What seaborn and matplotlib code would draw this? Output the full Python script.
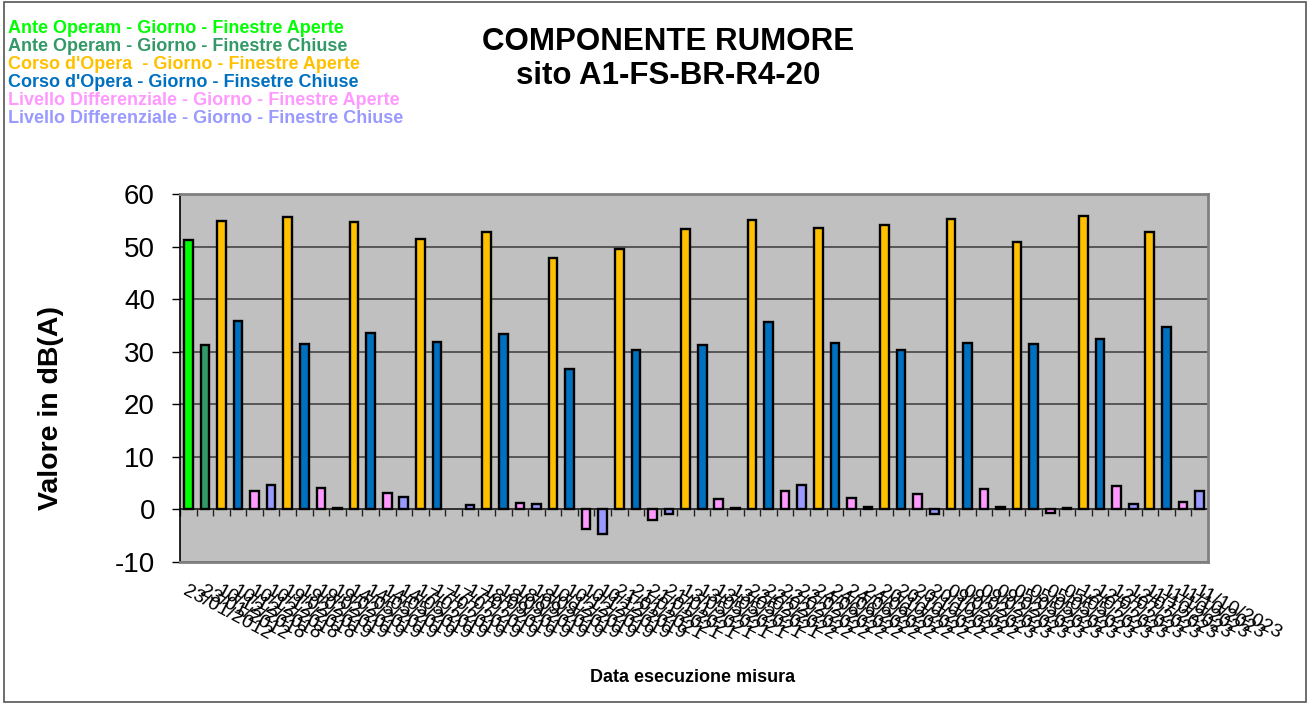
import numpy as np
import pandas as pd
import matplotlib
matplotlib.use("Agg")
import matplotlib.pyplot as plt
import seaborn as sns
from matplotlib.patches import Patch, Rectangle

# ---------------------------------
# data (dB(A))
serie = ["Ante Operam - Giorno - Finestre Aperte",
         "Ante Operam - Giorno - Finestre Chiuse",
         "Corso d'Opera  - Giorno - Finestre Aperte",
         "Corso d'Opera - Giorno - Finsetre Chiuse",
         "Livello Differenziale - Giorno - Finestre Aperte",
         "Livello Differenziale - Giorno - Finestre Chiuse"]
colori = ["#00FF00", "#339966", "#FFC000", "#0070C0", "#FF99FF", "#9999FF"]

data_ante = "23/01/2012"
date_corso = ["10/12/2018", "19/02/2019", "14/05/2019", "17/07/2019", "18/09/2019",
              "10/12/2019", "21/01/2021", "13/05/2021", "22/02/2022", "24/06/2022",
              "20/10/2022", "09/02/2023", "05/05/2023", "12/07/2023", "11/10/2023"]

ante_aperte = [51.3]
ante_chiuse = [31.2]
corso_aperte = [54.9, 55.6, 54.6, 51.4, 52.7, 47.8, 49.5, 53.4, 55.0, 53.5, 54.2, 55.3, 50.9, 55.8, 52.8]
corso_chiuse = [35.8, 31.4, 33.6, 31.8, 33.4, 26.8, 30.4, 31.3, 35.7, 31.6, 30.4, 31.7, 31.5, 32.5, 34.7]
diff_aperte = [3.5, 4.05, 3.1, np.nan, 1.3, -3.7, -2.0, 1.9, 3.5, 2.1, 2.85, 3.9, -0.6, 4.5, 1.4]
diff_chiuse = [4.7, 0.25, 2.4, 0.75, 1.1, -4.6, -0.8, 0.25, 4.6, 0.5, -0.8, 0.55, 0.3, 1.1, 3.5]

# one category (date) for every bar, as in the original sheet
rows = [(data_ante, serie[0], ante_aperte[0]), (data_ante, serie[1], ante_chiuse[0])]
for i, d in enumerate(date_corso):
    rows.append((d, serie[2], corso_aperte[i]))
    rows.append((d, serie[3], corso_chiuse[i]))
    rows.append((d, serie[4], diff_aperte[i]))
    rows.append((d, serie[5], diff_chiuse[i]))
df = pd.DataFrame(rows, columns=["data", "serie", "valore"])
df["slot"] = np.arange(len(df))

plt.rcParams["font.family"] = ["Liberation Sans", "DejaVu Sans"]
plt.rcParams["axes.unicode_minus"] = False

fig = plt.figure(figsize=(13.1, 7.04), dpi=100)
ax = fig.add_axes([0.1374, 0.2017, 0.7846, 0.5227])
ax.set_facecolor("#C0C0C0")

sns.barplot(data=df, x="slot", y="valore", hue="serie", hue_order=serie,
            palette=colori, saturation=1, dodge=False, width=0.52, edgecolor="black",
            linewidth=1.7, legend=False, ax=ax)

ax.set_ylim(-10, 60)
ax.set_yticks(range(-10, 61, 10))
ax.set_xlim(-0.5, len(df) - 0.5)
ax.yaxis.grid(True, color="#3a3a3a", linewidth=1.1)
ax.set_axisbelow(True)
ax.tick_params(axis="y", labelsize=20, direction="out", length=6, width=1, color="black", pad=12)

# dates at the bottom, slanted
ax.set_xticks(df["slot"])
ax.set_xticklabels(df["data"], rotation=-28, ha="left", rotation_mode="anchor", fontsize=14)
ax.tick_params(axis="x", length=0, pad=15)

for s in ["top", "right", "bottom"]:
    ax.spines[s].set_color("#808080")
    ax.spines[s].set_linewidth(2)
ax.spines["left"].set_color("black")
ax.spines["left"].set_linewidth(1.2)

# category axis crossing at zero, ticks between the bars
sec = ax.secondary_xaxis(0, transform=ax.transData)
sec.set_xticks(np.arange(-0.5, len(df), 1))
sec.set_xticklabels([])
sec.tick_params(direction="out", length=5, width=1, color="#222222")
sec.spines["bottom"].set_color("black")
sec.spines["bottom"].set_linewidth(1.2)

ax.set_xlabel("Data esecuzione misura", fontsize=13, fontweight="bold")
ax.xaxis.set_label_coords(0.499, -0.291)
ax.set_ylabel("Valore in dB(A)", fontsize=20.5, fontweight="bold")
ax.yaxis.set_label_coords(-0.113, 0.419)

fig.text(0.51, 0.962, "COMPONENTE RUMORE\nsito A1-FS-BR-R4-20", ha="center", va="top",
         fontsize=22.5, fontweight="bold", linespacing=1.18)

handles = [Patch(facecolor="none", edgecolor="none") for _ in serie]
fig.legend(handles, serie, loc="upper left", bbox_to_anchor=(-0.0005, 0.984),
           frameon=False, handlelength=0, handletextpad=0, labelcolor=colori,
           prop={"weight": "bold", "size": 13}, labelspacing=0.05, borderpad=0)

# thin frame round the whole chart
fig.patches.append(Rectangle((0.003, 0.003), 0.994, 0.994, transform=fig.transFigure,
                             fill=False, edgecolor="#555555", linewidth=1.2))

fig.savefig("out.png", dpi=100)
